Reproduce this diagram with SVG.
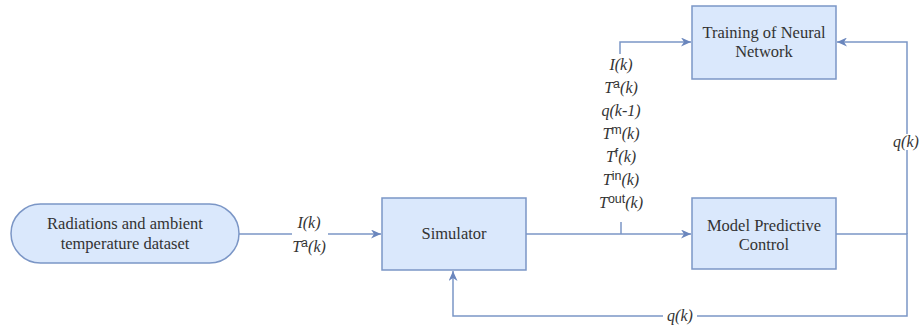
<svg xmlns="http://www.w3.org/2000/svg" width="921" height="333" viewBox="0 0 921 333">
<defs>
<style>
.box{fill:#dae8fc;stroke:#7b96c6;stroke-width:1.5}
.t{font-family:'Liberation Serif','Tinos','DejaVu Serif',serif;font-size:16.5px;fill:#333;text-anchor:middle}
.lb{font-family:'Liberation Serif','Tinos','DejaVu Serif',serif;font-size:16px;font-style:italic;fill:#333;text-anchor:middle}
.sup{font-family:'Liberation Sans','DejaVu Sans',sans-serif;font-size:12.5px;font-style:normal}
.ln{fill:none;stroke:#7b96c6;stroke-width:1.5}
.bg{fill:#ffffff}
</style>
<marker id="ah" markerWidth="11" markerHeight="9" refX="10" refY="4.5" orient="auto" markerUnits="userSpaceOnUse">
<path d="M0,0 L10,4.5 L0,9 L3,4.5 z" fill="#6a86bd"/>
</marker>
</defs>
<rect width="921" height="333" fill="#ffffff"/>
<g id="connectors">
<path class="ln" d="M239,234 H292"/>
<path class="ln" d="M328,234 H381" marker-end="url(#ah)"/>
<path class="ln" d="M526,234 H691" marker-end="url(#ah)"/>
<path class="ln" d="M621,234 V222"/>
<path class="ln" d="M620,54 V42 H691" marker-end="url(#ah)"/>
<path class="ln" d="M836,234 H907 V316 H453 V271" marker-end="url(#ah)"/>
<path class="ln" d="M907,234 V42 H837" marker-end="url(#ah)"/>
<rect class="bg" x="663" y="308" width="34" height="16"/>
<rect class="bg" x="894" y="134" width="26" height="16"/>
</g>
<g id="labels">
<text class="lb" x="309" y="228">I(k)</text>
<text class="lb" x="309" y="252">T<tspan class="sup" dy="-5">a</tspan><tspan dy="5">(k)</tspan></text>
<text class="lb" x="621" y="70">I(k)</text>
<text class="lb" x="621" y="93">T<tspan class="sup" dy="-5">a</tspan><tspan dy="5">(k)</tspan></text>
<text class="lb" x="621" y="116">q(k-1)</text>
<text class="lb" x="621" y="139">T<tspan class="sup" dy="-5">m</tspan><tspan dy="5">(k)</tspan></text>
<text class="lb" x="621" y="162">T<tspan class="sup" dy="-5">f</tspan><tspan dy="5">(k)</tspan></text>
<text class="lb" x="621" y="185">T<tspan class="sup" dy="-5">in</tspan><tspan dy="5">(k)</tspan></text>
<text class="lb" x="621" y="208">T<tspan class="sup" dy="-5">out</tspan><tspan dy="5">(k)</tspan></text>
<text class="lb" x="906" y="147">q(k)</text>
<text class="lb" x="680" y="321">q(k)</text>
</g>
<g id="dataset">
<rect class="box" x="11" y="204" width="228" height="59" rx="29.5" ry="29.5"/>
<text class="t" x="125" y="229">Radiations and ambient</text>
<text class="t" x="125" y="249">temperature dataset</text>
</g>
<g id="simulator">
<rect class="box" x="382" y="198" width="144" height="72"/>
<text class="t" x="454" y="239">Simulator</text>
</g>
<g id="mpc">
<rect class="box" x="692" y="198" width="144" height="71"/>
<text class="t" x="764" y="231">Model Predictive</text>
<text class="t" x="764" y="250">Control</text>
</g>
<g id="training">
<rect class="box" x="692" y="6" width="144" height="73"/>
<text class="t" x="764" y="38">Training of Neural</text>
<text class="t" x="764" y="57">Network</text>
</g>
</svg>
